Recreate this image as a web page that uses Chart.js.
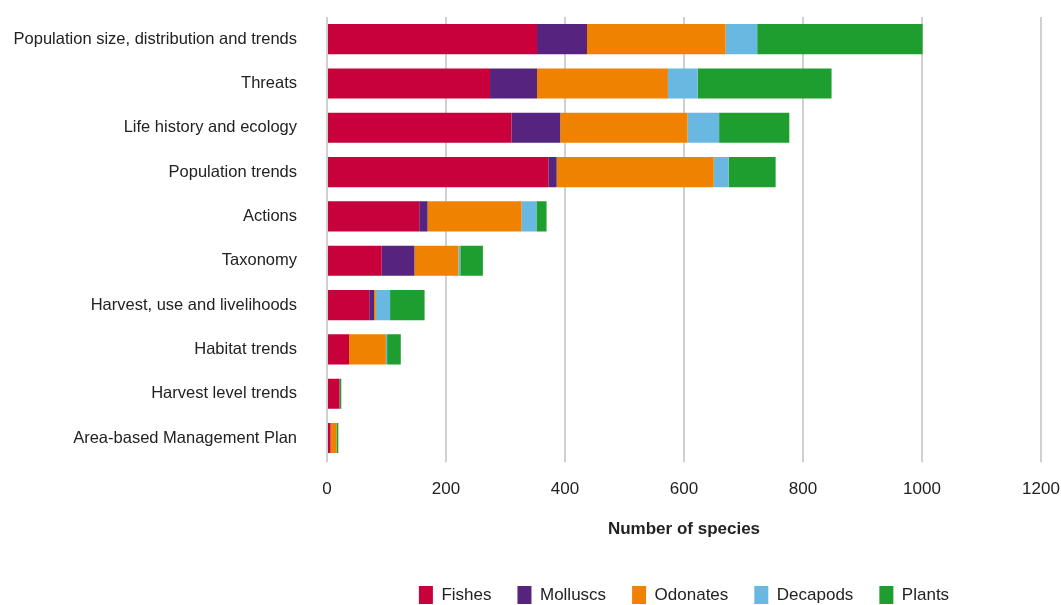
<!DOCTYPE html>
<html>
<head>
<meta charset="utf-8">
<script src="https://cdn.jsdelivr.net/npm/chart.js@4/dist/chart.umd.min.js"></script>
<style>
  html, body { margin: 0; padding: 0; background: #fff; }
  #wrap { width: 1061px; height: 605px; }
</style>
</head>
<body>
<div id="wrap"><canvas id="chartCanvas" width="1061" height="605"></canvas></div>
<script>
// categories (top to bottom)
const categories = [
  "Population size, distribution and trends",
  "Threats",
  "Life history and ecology",
  "Population trends",
  "Actions",
  "Taxonomy",
  "Harvest, use and livelihoods",
  "Habitat trends",
  "Harvest level trends",
  "Area-based Management Plan"
];

// number of species per group
const fishes    = [353, 274, 310, 372, 155, 92, 71, 37, 21, 6];
const molluscs  = [84, 79, 82, 14, 14, 55, 8, 0, 0, 0];
const odonates  = [233, 220, 214, 264, 158, 74, 3, 62, 0, 10];
const decapods  = [53, 50, 53, 25, 25, 3, 24, 2, 0, 0];
const plants    = [278, 225, 118, 79, 17, 38, 58, 23, 3, 3];

const xTicks = [0, 200, 400, 600, 800, 1000, 1200];

const fontFamily = "'Liberation Sans', Arial, sans-serif";
const ctx = document.getElementById("chartCanvas").getContext("2d");

const makeSet = (label, data, color) => ({
  label: label,
  data: data,
  backgroundColor: color,
  borderWidth: 0,
  barPercentage: 0.68,
  categoryPercentage: 1.0
});

new Chart(ctx, {
  type: "bar",
  data: {
    labels: categories,
    datasets: [
      makeSet("Fishes", fishes, "#C8003C"),
      makeSet("Molluscs", molluscs, "#56237F"),
      makeSet("Odonates", odonates, "#EF8200"),
      makeSet("Decapods", decapods, "#68B8E2"),
      makeSet("Plants", plants, "#1D9E2F")
    ]
  },
  options: {
    indexAxis: "y",
    responsive: false,
    animation: false,
    layout: { padding: { top: 0, right: 0, left: 0, bottom: -9 } },
    scales: {
      x: {
        stacked: true,
        min: 0,
        max: 1200,
        afterBuildTicks: (axis) => {
          axis.ticks = xTicks.map((v) => ({ value: v }));
        },
        afterFit: (scale) => {
          scale.paddingLeft = 0;
          scale.paddingRight = 20;
        },
        grid: { color: "#d0d0d0", lineWidth: 2, tickLength: 2, drawTicks: true },
        border: { display: false },
        ticks: {
          color: "#222",
          padding: 17,
          callback: (v) => String(v),
          font: { family: fontFamily, size: 17 }
        },
        title: {
          display: true,
          text: "Number of species",
          color: "#222",
          padding: { top: 3, bottom: 20 },
          font: { family: fontFamily, size: 17, weight: "bold" }
        }
      },
      y: {
        stacked: true,
        grid: { display: false },
        border: { display: false },
        afterFit: (scale) => {
          scale.width = 327;
          scale.paddingTop = 17;
          scale.paddingBottom = 0;
        },
        ticks: {
          color: "#222",
          padding: 22,
          font: { family: fontFamily, size: 16.5 }
        }
      }
    },
    plugins: {
      legend: {
        position: "bottom",
        fullSize: false,
        labels: {
          boxWidth: 14,
          boxHeight: 18,
          padding: 26,
          color: "#222",
          font: { family: fontFamily, size: 17 }
        }
      },
      tooltip: { enabled: false }
    }
  }
});
</script>
</body>
</html>
